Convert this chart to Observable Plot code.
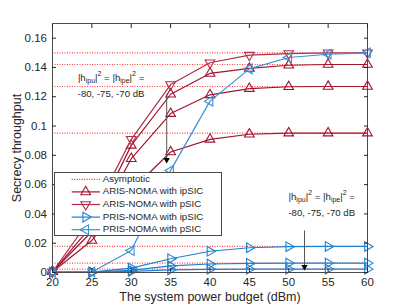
<!DOCTYPE html>
<html><head><meta charset="utf-8">
<script src="https://cdn.jsdelivr.net/npm/d3@7"></script>
<script src="https://cdn.jsdelivr.net/npm/@observablehq/plot@0.6"></script>
<style>
body{margin:0;background:#fff;}
#wrap{position:relative;width:406px;height:305px;font-family:"Liberation Sans",Arial,sans-serif;}
#legend{position:absolute;left:54px;top:172px;}
</style></head><body><div id="wrap"></div>
<script>
// ---- data ----
const powers = [20, 25, 30, 35, 40, 45, 50, 55, 60];
const arisPSIC      = [0.0005, 0.038, 0.0909, 0.1283, 0.1432, 0.1484, 0.1495, 0.150, 0.150];
const arisIPSIC80   = [0.0005, 0.032, 0.0868, 0.1217, 0.1359, 0.1393, 0.1415, 0.1420, 0.1420];
const arisIPSIC75   = [0.0005, 0.028, 0.0777, 0.1085, 0.1213, 0.1256, 0.1268, 0.1270, 0.1270];
const arisIPSIC70   = [0.0005, 0.0219, 0.056, 0.0823, 0.0909, 0.0944, 0.0952, 0.0952, 0.0952];
const prisPSIC      = [0.0002, 0.0003, 0.015, 0.0697, 0.117, 0.139, 0.1468, 0.149, 0.150];
const prisIPSIC80   = [0.0002, 0.0003, 0.003, 0.0094, 0.0145, 0.0169, 0.0176, 0.0178, 0.0178];
const prisIPSIC75   = [0.0002, 0.0002, 0.0015, 0.0045, 0.0058, 0.0062, 0.0064, 0.0064, 0.0064];
const prisIPSIC70   = [0.0002, 0.0001, 0.0008, 0.0018, 0.0022, 0.0023, 0.0023, 0.0023, 0.0023];
const asymptotes    = [0.150, 0.142, 0.127, 0.0952, 0.0178, 0.0064, 0.0023];
const xTicks = [20, 25, 30, 35, 40, 45, 50, 55, 60];
const yTicks = [0, 0.02, 0.04, 0.06, 0.08, 0.1, 0.12, 0.14, 0.16];
const yTickLabels = ["0", "0.02", "0.04", "0.06", "0.08", "0.1", "0.12", "0.14", "0.16"];
const legendNames = ["Asymptotic", "ARIS-NOMA with ipSIC", "ARIS-NOMA with pSIC", "PRIS-NOMA with ipSIC", "PRIS-NOMA with pSIC"];
const arrowsData = [{x: 34.5, y1: 0.122, y2: 0.0755}, {x: 52, y1: 0.0287, y2: 0.0025}];
const notes = [
  {x: 27.5, y: 0.1327, kind: "eq"}, {x: 27.5, y: 0.121, kind: "db"},
  {x: 54.25, y: 0.0513, kind: "eq"}, {x: 54.25, y: 0.0403, kind: "db"}
];

const RED = "#a2142f", RED2 = "#b0304c", BLUE = "#1f80cf", BLUE2 = "#3a90d4";
const series = [
  {v: arisIPSIC80, c: RED, rot: 0}, {v: arisIPSIC75, c: RED, rot: 0}, {v: arisIPSIC70, c: RED, rot: 0},
  {v: arisPSIC, c: RED2, rot: 180},
  {v: prisIPSIC80, c: BLUE, rot: 90}, {v: prisIPSIC75, c: BLUE, rot: 90}, {v: prisIPSIC70, c: BLUE, rot: 90},
  {v: prisPSIC, c: BLUE2, rot: -90}
];

const marks = [];
marks.push(Plot.ruleY(asymptotes, {stroke: "#ff2020", strokeWidth: 1.2, strokeDasharray: "1,1.5", strokeOpacity: 0.85}));
for (const s of series) {
  const d = powers.map((p, i) => ({x: p, y: s.v[i]}));
  marks.push(Plot.line(d, {x: "x", y: "y", stroke: s.c, strokeWidth: 1.2}));
  marks.push(Plot.dot(d, {x: "x", y: "y", symbol: "triangle", rotate: s.rot, r: 3.6, stroke: s.c, fill: "none", strokeWidth: 1.1}));
}
marks.push(Plot.link(arrowsData, {x1: "x", x2: "x", y1: "y1", y2: "y2", stroke: "#555", strokeWidth: 1}));
marks.push(Plot.dot(arrowsData, {x: "x", y: "y2", symbol: "triangle2", rotate: 180, r: 3, fill: "black", dy: -2}));
marks.push(Plot.frame({stroke: "#4a4a4a", strokeWidth: 1}));
marks.push(Plot.axisX({anchor: "bottom", ticks: xTicks, tickSize: -4, tickPadding: 9, tickFormat: d => String(d),
  label: "The system power budget (dBm)", labelAnchor: "center", labelArrow: "none", labelOffset: 28}));
marks.push(Plot.axisX({anchor: "top", ticks: xTicks, tickSize: -4, tickFormat: () => "", label: null}));
marks.push(Plot.axisY({anchor: "left", ticks: yTicks, tickSize: -4, tickPadding: 9.5,
  tickFormat: d => yTickLabels[yTicks.findIndex(t => Math.abs(t - d) < 1e-9)],
  label: "Secrecy throughput", labelAnchor: "center", labelArrow: "none", labelOffset: 40}));
marks.push(Plot.axisY({anchor: "right", ticks: yTicks, tickSize: -4, tickFormat: () => "", label: null}));

const plot = Plot.plot({
  width: 406, height: 305,
  marginLeft: 52, marginRight: 39, marginTop: 23, marginBottom: 33,
  x: {domain: [20, 60]},
  y: {domain: [0, 0.17]},
  style: {fontFamily: "'Liberation Sans', Arial, sans-serif", fontSize: "11.5px", color: "#262626", background: "white"},
  marks
});
document.getElementById("wrap").appendChild(plot);
const svg = d3.select(plot);
svg.selectAll("g[aria-label='x-axis label'] text, g[aria-label='y-axis label'] text").style("font-size", "12.5px");

// annotations
const xs = plot.scale("x"), ys = plot.scale("y");
const eqSegs = [["|h", 0], ["ipu", 1], ["|", 0], ["2", -1], [" = |h", 0], ["ipe", 1], ["|", 0], ["2", -1], [" =", 0]];
for (const n of notes) {
  const t = svg.append("text").attr("x", xs.apply(n.x)).attr("y", ys.apply(n.y))
    .attr("text-anchor", "middle").attr("dominant-baseline", "middle")
    .style("font-size", "9.6px").style("font-family", "'Liberation Sans', Arial, sans-serif").attr("fill", "#262626");
  if (n.kind === "db") { t.text("-80, -75, -70 dB"); continue; }
  let prev = 0;
  for (const [str, lvl] of eqSegs) {
    const shift = (l) => l === 1 ? 3 : l === -1 ? -4 : 0;
    t.append("tspan").attr("dy", shift(lvl) - shift(prev)).style("font-size", lvl ? "7px" : "9.6px").text(str);
    prev = lvl;
  }
}

// legend
const lg = d3.select("#wrap").append("svg").attr("id", "legend").attr("width", 168).attr("height", 64);
lg.append("rect").attr("x", 0.5).attr("y", 0.5).attr("width", 167).attr("height", 63).attr("fill", "white").attr("stroke", "#4a4a4a");
const legendStyles = [
  {c: "#ff2020", dash: "1,1.5", rot: null},
  {c: RED, rot: 0}, {c: RED2, rot: 180}, {c: BLUE, rot: 90}, {c: BLUE2, rot: -90}
];
legendNames.forEach((name, i) => {
  const y = 7.3 + i * 12.6, st = legendStyles[i];
  lg.append("line").attr("x1", 17.7).attr("x2", 46).attr("y1", y).attr("y2", y)
    .attr("stroke", st.c).attr("stroke-width", 1.2).attr("stroke-dasharray", st.dash || null);
  if (st.rot !== null) {
    lg.append("path").attr("d", d3.symbol(d3.symbolTriangle, 3.6 * 3.6 * Math.PI)())
      .attr("transform", `translate(31.7,${y}) rotate(${st.rot})`)
      .attr("fill", "none").attr("stroke", st.c).attr("stroke-width", 1.1);
  }
  lg.append("text").attr("x", 48.7).attr("y", y).attr("dominant-baseline", "middle")
    .style("font-size", "9.7px").style("font-family", "'Liberation Sans', Arial, sans-serif").attr("fill", "#262626").text(name);
});
</script></body></html>
